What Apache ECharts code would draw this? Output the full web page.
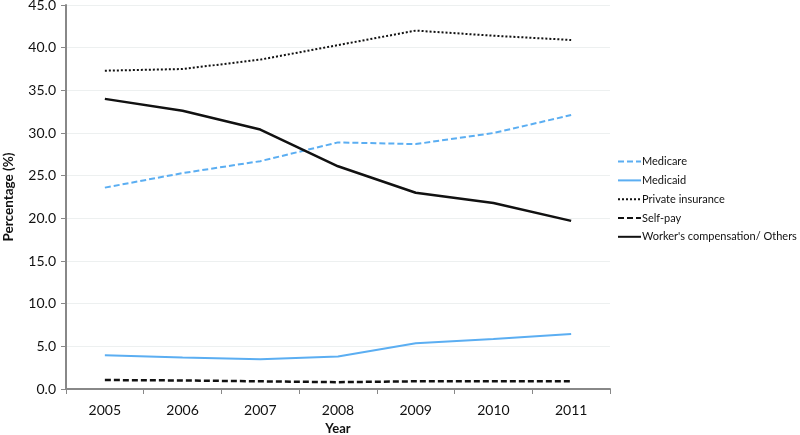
<!DOCTYPE html>
<html><head><meta charset="utf-8">
<script src="https://cdn.jsdelivr.net/npm/echarts@6/dist/echarts.min.js"></script>
<style>html,body{margin:0;padding:0;background:#fff}#c{width:800px;height:435px}</style>
</head><body><div id="c"></div>
<script>
const years = ['2005','2006','2007','2008','2009','2010','2011'];
const medicare = [23.6, 25.3, 26.7, 28.9, 28.7, 30.0, 32.1];
const medicaid = [3.95, 3.7, 3.5, 3.8, 5.35, 5.85, 6.45];
const privateIns = [37.3, 37.5, 38.6, 40.3, 42.0, 41.4, 40.9];
const selfPay = [1.05, 1.0, 0.9, 0.8, 0.9, 0.9, 0.9];
const workers = [34.0, 32.6, 30.4, 26.1, 23.0, 21.8, 19.7];
const FONT = 'Lato';
const blue = '#5BAEF2';
const chart = echarts.init(document.getElementById('c'));
chart.setOption({
  animation: false,
  textStyle: {fontFamily: FONT},
  grid: {left: 66, right: 190, top: 5, bottom: 46, containLabel: false, outerBoundsMode: 'none'},
  legend: {
    orient: 'vertical', left: 617, top: 156, padding: 0,
    itemWidth: 23, itemHeight: 14, itemGap: 7.6,
    itemStyle: {opacity: 0},
    textStyle: {fontFamily: FONT, fontSize: 11, color: '#111', padding: [0,0,0,-4]},
    data: ['Medicare','Medicaid','Private insurance','Self-pay',"Worker's compensation/ Others"]
  },
  xAxis: {
    type: 'category', data: years, boundaryGap: true,
    name: 'Year', nameLocation: 'middle', nameGap: 31,
    nameTextStyle: {fontFamily: FONT, fontWeight: 'bold', fontSize: 13, color: '#111'},
    axisLine: {lineStyle: {color: '#888', width: 2}},
    axisTick: {show: true, length: 5, lineStyle: {color: '#888', width: 1}},
    axisLabel: {fontFamily: FONT, fontSize: 14, color: '#111', margin: 14}
  },
  yAxis: {
    type: 'value', min: 0, max: 45, interval: 5,
    name: 'Percentage (%)', nameLocation: 'middle', nameGap: 50, nameRotate: 90,
    nameTextStyle: {fontFamily: FONT, fontWeight: 'bold', fontSize: 13.5, color: '#111'},
    axisLine: {show: true, lineStyle: {color: '#888', width: 2}},
    axisTick: {show: true, length: 5, lineStyle: {color: '#888', width: 1}},
    axisLabel: {fontFamily: FONT, fontSize: 14, color: '#111', margin: 10, formatter: v => v.toFixed(1)},
    splitLine: {show: true, lineStyle: {color: '#EDF0F0', width: 1}}
  },
  series: [
    {name: 'Medicare', type: 'line', data: medicare, symbol: 'none', color: blue,
     lineStyle: {color: blue, width: 2, type: [6, 3]}},
    {name: 'Medicaid', type: 'line', data: medicaid, symbol: 'none', color: blue,
     lineStyle: {color: blue, width: 2, type: 'solid'}},
    {name: 'Private insurance', type: 'line', data: privateIns, symbol: 'none', color: '#111',
     lineStyle: {color: '#111', width: 2, type: [2, 2]}},
    {name: 'Self-pay', type: 'line', data: selfPay, symbol: 'none', color: '#111',
     lineStyle: {color: '#111', width: 2.5, type: [6, 3]}},
    {name: "Worker's compensation/ Others", type: 'line', data: workers, symbol: 'none', color: '#111',
     lineStyle: {color: '#111', width: 2.5, type: 'solid'}}
  ]
});
</script></body></html>
